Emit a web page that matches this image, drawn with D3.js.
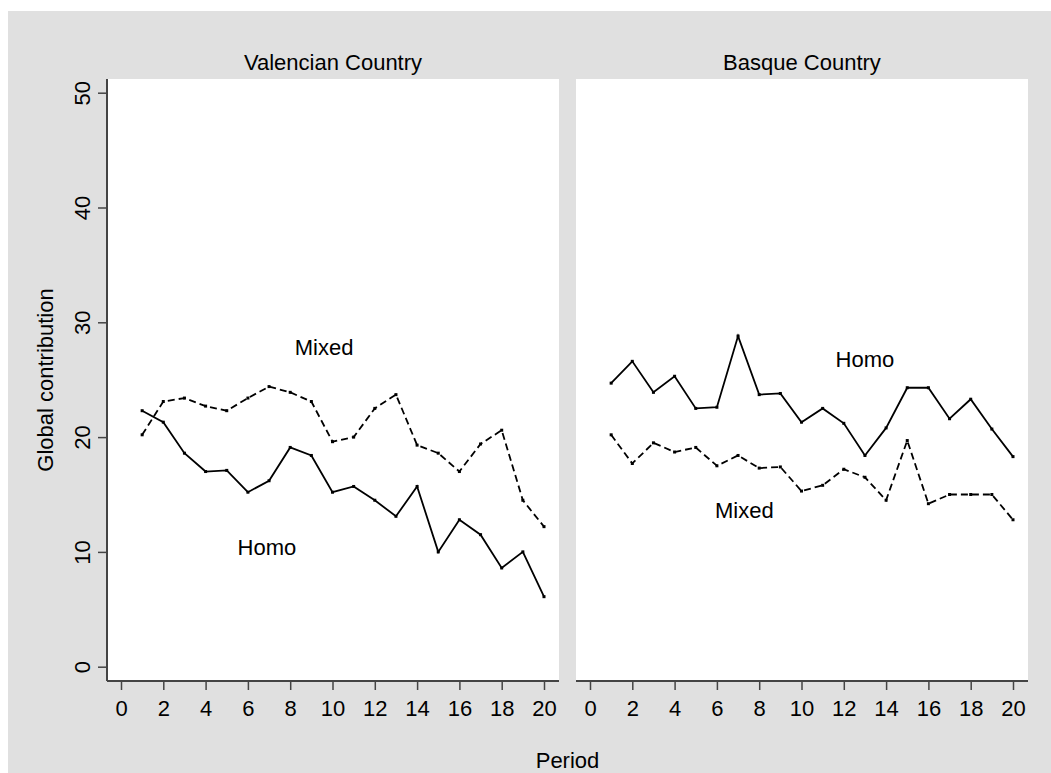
<!DOCTYPE html>
<html>
<head>
<meta charset="utf-8">
<script src="https://cdn.jsdelivr.net/npm/d3@7"></script>
<style>
  html, body { margin: 0; padding: 0; background: #ffffff; }
  svg { display: block; }
  text { font-family: "Liberation Sans", Arial, Helvetica, sans-serif; fill: #000; }
</style>
</head>
<body>
<div id="chart"></div>
<script>
// Periods of the public-goods game
const periods = [1, 2, 3, 4, 5, 6, 7, 8, 9, 10, 11, 12, 13, 14, 15, 16, 17, 18, 19, 20];

// Average global contribution per period, by region and group composition
const valencianHomo  = [22.3, 21.3, 18.6, 17.0, 17.1, 15.2, 16.2, 19.1, 18.4, 15.2, 15.7, 14.5, 13.1, 15.7, 10.0, 12.8, 11.5, 8.6, 10.0, 6.1];
const valencianMixed = [20.2, 23.1, 23.4, 22.7, 22.3, 23.4, 24.4, 23.9, 23.1, 19.6, 20.0, 22.5, 23.7, 19.3, 18.6, 17.0, 19.4, 20.6, 14.5, 12.2];
const basqueHomo     = [24.7, 26.6, 23.9, 25.3, 22.5, 22.6, 28.8, 23.7, 23.8, 21.3, 22.5, 21.2, 18.4, 20.8, 24.3, 24.3, 21.6, 23.3, 20.7, 18.3];
const basqueMixed    = [20.2, 17.7, 19.5, 18.7, 19.1, 17.5, 18.4, 17.3, 17.4, 15.3, 15.8, 17.2, 16.5, 14.5, 19.7, 14.2, 15.0, 15.0, 15.0, 12.8];

const panelTitles = ["Valencian Country", "Basque Country"];
const xTicks = [0, 2, 4, 6, 8, 10, 12, 14, 16, 18, 20];
const yTicks = [0, 10, 20, 30, 40, 50];
const xTitle = "Period";
const yTitle = "Global contribution";

// In-plot labels: [panel, text, period, value]
const lineLabels = [
  [0, "Mixed", 9.6, 27.8],
  [0, "Homo", 6.9, 10.4],
  [1, "Homo", 13.0, 26.8],
  [1, "Mixed", 7.3, 13.6]
];

const panels = [
  { title: panelTitles[0], homo: valencianHomo, mixed: valencianMixed },
  { title: panelTitles[1], homo: basqueHomo, mixed: basqueMixed }
];

const W = 1051, H = 773;
const axisColor = "#444";
const fontSize = 22;

const svg = d3.select("#chart").append("svg")
  .attr("width", W).attr("height", H);

// Outer grey graph region
svg.append("rect")
  .attr("x", 8).attr("y", 11)
  .attr("width", W - 8).attr("height", H - 11)
  .attr("fill", "#e0e0e0");

const plotTop = 79, plotBottom = 681;
const panelBoxes = [
  { left: 107, right: 559 },
  { left: 576, right: 1028 }
];

const y = d3.scaleLinear().domain([0, 50]).range([666.7, 92.7]);

const lineGen = xs => d3.line()
  .x((d, i) => xs(periods[i]))
  .y(d => y(d));

panels.forEach((p, k) => {
  const box = panelBoxes[k];
  const x = d3.scaleLinear().domain([0, 20]).range([box.left + 14, box.left + 437]);
  const g = svg.append("g");

  // Plot area
  g.append("rect")
    .attr("x", box.left).attr("y", plotTop)
    .attr("width", box.right - box.left).attr("height", plotBottom - plotTop)
    .attr("fill", "#ffffff");

  // Panel title
  g.append("text")
    .attr("x", (box.left + box.right) / 2).attr("y", 70)
    .attr("text-anchor", "middle")
    .attr("font-size", fontSize)
    .text(p.title);

  // Bottom axis
  const xAxis = d3.axisBottom(x).tickValues(xTicks).tickSize(9).tickSizeOuter(0).tickPadding(10);
  const gx = g.append("g").attr("transform", `translate(0,${plotBottom})`).call(xAxis);
  gx.select(".domain").remove();
  gx.selectAll(".tick line").attr("stroke", axisColor).attr("stroke-width", 1.5);
  gx.selectAll(".tick text").attr("font-size", fontSize)
    .attr("font-family", "Liberation Sans, Arial, sans-serif").attr("fill", "#000");
  g.append("line")
    .attr("x1", box.left).attr("x2", box.right)
    .attr("y1", plotBottom).attr("y2", plotBottom)
    .attr("stroke", axisColor).attr("stroke-width", 2);

  // Left axis only on the first panel
  if (k === 0) {
    const yAxis = d3.axisLeft(y).tickValues(yTicks).tickSize(9).tickSizeOuter(0);
    const gy = g.append("g").attr("transform", `translate(${box.left},0)`).call(yAxis);
    gy.select(".domain").remove();
    gy.selectAll(".tick line").attr("stroke", axisColor).attr("stroke-width", 1.5);
    gy.selectAll(".tick text")
      .attr("x", null).attr("dy", null)
      .attr("text-anchor", "middle")
      .attr("transform", "translate(-17,0) rotate(-90)")
      .attr("font-size", fontSize)
      .attr("font-family", "Liberation Sans, Arial, sans-serif").attr("fill", "#000");
    g.append("line")
      .attr("x1", box.left).attr("x2", box.left)
      .attr("y1", plotTop).attr("y2", plotBottom)
      .attr("stroke", axisColor).attr("stroke-width", 2);
  }

  // Series lines
  g.append("path").datum(p.homo)
    .attr("d", lineGen(x))
    .attr("fill", "none").attr("stroke", "#000")
    .attr("stroke-width", 1.8).attr("stroke-linejoin", "miter");
  g.append("path").datum(p.mixed)
    .attr("d", lineGen(x))
    .attr("fill", "none").attr("stroke", "#000")
    .attr("stroke-width", 1.8).attr("stroke-dasharray", "7,4");

  // Point markers
  [p.homo, p.mixed].forEach(series => {
    g.selectAll(null).data(series).enter().append("rect")
      .attr("x", (d, i) => x(periods[i]) - 1.5)
      .attr("y", d => y(d) - 1.5)
      .attr("width", 3).attr("height", 3)
      .attr("fill", "#000");
  });

  // Line labels
  lineLabels.filter(l => l[0] === k).forEach(l => {
    g.append("text")
      .attr("x", x(l[2])).attr("y", y(l[3]))
      .attr("dy", "0.36em")
      .attr("text-anchor", "middle")
      .attr("font-size", fontSize)
      .text(l[1]);
  });
});

// Axis titles
svg.append("text")
  .attr("x", (panelBoxes[0].left + panelBoxes[1].right) / 2).attr("y", 768)
  .attr("text-anchor", "middle")
  .attr("font-size", fontSize)
  .text(xTitle);

svg.append("text")
  .attr("transform", `translate(52.7,${(plotTop + plotBottom) / 2}) rotate(-90)`)
  .attr("text-anchor", "middle")
  .attr("font-size", fontSize)
  .text(yTitle);
</script>
</body>
</html>
